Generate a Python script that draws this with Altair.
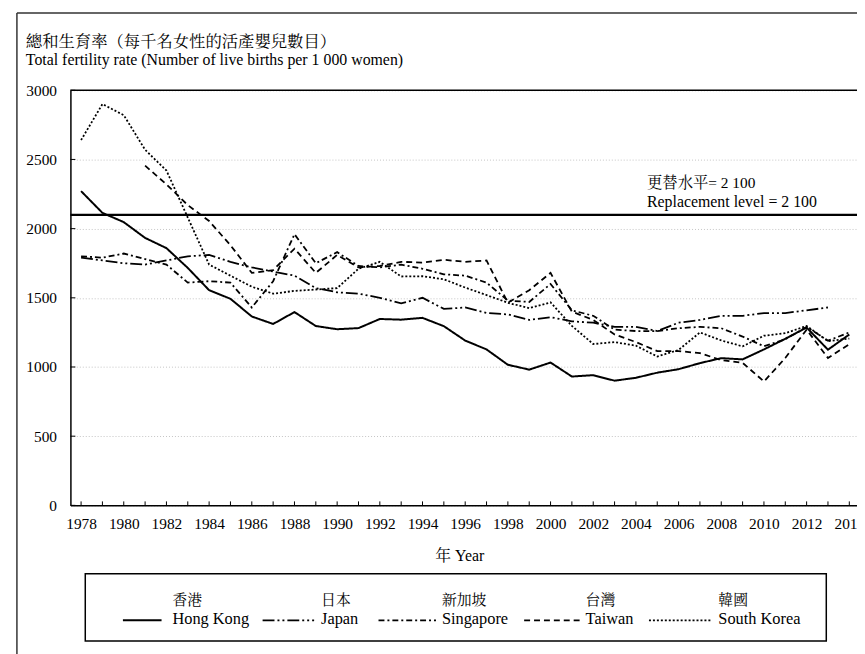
import altair as alt
import pandas as pd

# ---------------- data ----------------
years = list(range(1978, 2015))
hong_kong = [2271, 2114, 2047, 1933, 1859, 1716, 1555, 1493, 1365, 1311, 1397, 1296,
             1273, 1281, 1347, 1342, 1355, 1295, 1191, 1127, 1016, 981, 1032, 931,
             941, 901, 922, 959, 984, 1028, 1064, 1055, 1127, 1204, 1285, 1125, 1235]
japan_years = list(range(1978, 2014))
japan = [1790, 1770, 1750, 1740, 1770, 1800, 1810, 1760, 1720, 1690, 1660, 1570,
         1540, 1530, 1500, 1460, 1500, 1420, 1430, 1390, 1380, 1340, 1360, 1330,
         1320, 1290, 1290, 1260, 1320, 1340, 1370, 1370, 1390, 1390, 1410, 1430]
singapore = [1800, 1790, 1820, 1780, 1740, 1610, 1620, 1610, 1430, 1620, 1960, 1750,
             1830, 1730, 1720, 1740, 1710, 1670, 1660, 1610, 1480, 1470, 1600, 1410,
             1370, 1270, 1260, 1260, 1280, 1290, 1280, 1220, 1150, 1200, 1290, 1190, 1250]
taiwan_years = list(range(1981, 2015))
taiwan = [2455, 2320, 2170, 2055, 1880, 1680, 1700, 1855, 1680, 1810, 1720, 1730,
          1760, 1755, 1775, 1760, 1770, 1465, 1555, 1680, 1400, 1340, 1235, 1180,
          1115, 1115, 1100, 1050, 1030, 895, 1065, 1270, 1065, 1165]
south_korea = [2640, 2900, 2820, 2570, 2420, 2080, 1740, 1660, 1580, 1530, 1550, 1560,
               1570, 1710, 1760, 1654, 1656, 1634, 1574, 1520, 1464, 1425, 1467, 1297,
               1166, 1180, 1154, 1076, 1123, 1250, 1192, 1149, 1226, 1244, 1297, 1187, 1205]

countries_en = ["Hong Kong", "Japan", "Singapore", "Taiwan", "South Korea"]
countries_zh = ["香港", "日本", "新加坡", "台灣", "韓國"]
x_tick_labels = list(range(1978, 2015, 2))
y_tick_labels = [0, 500, 1000, 1500, 2000, 2500, 3000]
replacement_level = 2100

title_zh = "總和生育率（每千名女性的活產嬰兒數目）"
title_en = "Total fertility rate (Number of live births per 1 000 women)"
x_title = "年 Year"
repl_zh = "更替水平= 2 100"
repl_en = "Replacement level = 2 100"

series = [
    (countries_en[0], years, hong_kong),
    (countries_en[1], japan_years, japan),
    (countries_en[2], years, singapore),
    (countries_en[3], taiwan_years, taiwan),
    (countries_en[4], years, south_korea),
]
rows = []
for name, ys, vs in series:
    for yr, v in zip(ys, vs):
        rows.append({"country": name, "year": yr, "value": v})
df = pd.DataFrame(rows)

# ---------------- styling ----------------
SERIF = "Liberation Serif, Times New Roman, Noto Serif CJK TC, Noto Sans CJK TC"
W, H = 794, 419
dashes = {
    "Hong Kong": [1, 0],
    "Japan": [12, 3, 2, 3, 2, 3],
    "Singapore": [6, 3, 2, 3],
    "Taiwan": [6, 4],
    "South Korea": [2, 2],
}
widths = {"Hong Kong": 2.0, "Japan": 1.8, "Singapore": 1.8, "Taiwan": 1.8, "South Korea": 1.8}

xs = alt.Scale(domain=[1977.5, 2014.5], range=[0, 797], nice=False, zero=False)
ys_ = alt.Scale(domain=[0, 3000], nice=False, zero=True)

x_axis = alt.Axis(values=x_tick_labels, format="d", title=None, grid=False, ticks=False,
                  domainColor="black", domainWidth=1.5, labelFont=SERIF, labelFontSize=15.5,
                  labelColor="black", labelPadding=11, labelOverlap=False, labelFlush=False)
y_axis = alt.Axis(values=y_tick_labels, format="d", title=None, grid=True, gridColor="#c4c4c4",
                  gridDash=[1, 2], gridWidth=1, ticks=False, domainColor="black",
                  domainWidth=1.5, labelFont=SERIF, labelFontSize=15.5, labelColor="black",
                  labelPadding=14, labelFlush=False, labelOverlap=False)

layers = []

# replacement level rule
layers.append(
    alt.Chart(pd.DataFrame({"value": [replacement_level]}))
    .mark_rule(color="black", strokeWidth=2.2)
    .encode(y=alt.Y("value:Q", scale=ys_, axis=y_axis))
)

# data lines
for i, name in enumerate(countries_en):
    layers.append(
        alt.Chart(df)
        .transform_filter(alt.datum.country == name)
        .mark_line(color="black", strokeWidth=widths[name], strokeDash=dashes[name])
        .encode(x=alt.X("year:Q", scale=xs, axis=x_axis),
                y=alt.Y("value:Q", scale=ys_, axis=y_axis),
                order="year:Q")
    )

# inward year ticks
layers.append(
    alt.Chart(pd.DataFrame({"year": years}))
    .mark_rule(color="black", strokeWidth=1)
    .encode(x=alt.X("year:Q", scale=xs, axis=x_axis), y=alt.value(H), y2=alt.value(H - 4))
)
# inward value ticks
layers.append(
    alt.Chart(pd.DataFrame({"value": y_tick_labels}))
    .mark_rule(color="black", strokeWidth=1)
    .encode(y=alt.Y("value:Q", scale=ys_, axis=y_axis), x=alt.value(0), x2=alt.value(5))
)

# plot top frame
layers.append(alt.Chart().mark_rule(color="black", strokeWidth=1.5)
              .encode(x=alt.value(0), x2=alt.value(W), y=alt.value(0)))
# outer frame
layers.append(alt.Chart().mark_rule(color="#333333", strokeWidth=1.5)
              .encode(x=alt.value(-54), x2=alt.value(W), y=alt.value(-78)))
layers.append(alt.Chart().mark_rule(color="#333333", strokeWidth=1.5)
              .encode(x=alt.value(-54), y=alt.value(-78), y2=alt.value(H + 150)))


def text(t, x, y, size, align="left"):
    return (alt.Chart().mark_text(text=t, font=SERIF, fontSize=size, color="black",
                                  align=align, baseline="middle")
            .encode(x=alt.value(x), y=alt.value(y)))


# axis titles
layers.append(text(title_zh, -45, -49, 16.5))
layers.append(text(title_en, -45, -31, 16))
layers.append(text(x_title, 393, 470, 16, align="center"))
# replacement annotation
layers.append(text(repl_zh, 582, 94, 15.5))
layers.append(text(repl_en, 582, 113, 16))

# legend box
layers.append(alt.Chart().mark_rect(fillOpacity=0, stroke="black", strokeWidth=1.5)
              .encode(x=alt.value(15), x2=alt.value(763), y=alt.value(488), y2=alt.value(556)))
leg_line = [(53, 92), (194, 246), (311, 369), (458, 517), (584, 648)]
leg_text = [103, 253, 375, 520, 654]
for i, name in enumerate(countries_en):
    x1, x2 = leg_line[i]
    layers.append(alt.Chart().mark_rule(color="black", strokeWidth=widths[name],
                                        strokeDash=dashes[name])
                  .encode(x=alt.value(x1), x2=alt.value(x2), y=alt.value(535)))
    layers.append(text(countries_zh[i], leg_text[i], 515, 15))
    layers.append(text(name, leg_text[i], 534, 16.5))

chart = (
    alt.layer(*layers)
    .properties(width=W, height=H, autosize=alt.AutoSizeParams(type="none"),
                padding={"left": 63, "top": 80, "right": 0, "bottom": 147})
    .configure_view(stroke=None)
)

chart.save("out.html", embed_options={"renderer": "svg", "actions": False})
